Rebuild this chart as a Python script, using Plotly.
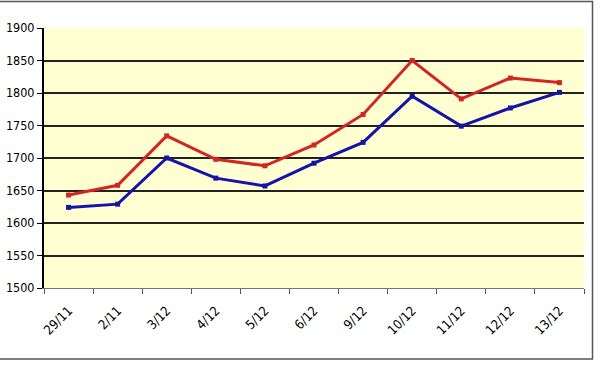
import plotly.graph_objects as go

dates = ["29/11", "2/11", "3/12", "4/12", "5/12", "6/12", "9/12", "10/12", "11/12", "12/12", "13/12"]
red_values = [1643, 1658, 1734, 1698, 1688, 1720, 1767, 1850, 1791, 1823, 1816]
blue_values = [1624, 1629, 1700, 1669, 1657, 1692, 1724, 1795, 1749, 1777, 1801]
y_ticks = [1500, 1550, 1600, 1650, 1700, 1750, 1800, 1850, 1900]

FONT = "Liberation Sans Narrow, Arial Narrow, DejaVu Sans Condensed, sans-serif"

fig = go.Figure()
fig.add_trace(go.Scatter(
    x=dates, y=red_values, mode="lines+markers",
    line=dict(color="#D42424", width=3),
    marker=dict(symbol="square", size=5, color="#D42424"),
    showlegend=False,
))
fig.add_trace(go.Scatter(
    x=dates, y=blue_values, mode="lines+markers",
    line=dict(color="#1414A8", width=3),
    marker=dict(symbol="square", size=5, color="#1414A8"),
    showlegend=False,
))

L, R, T, B = 44, 16, 28, 78
W, H = 600, 366
pw, ph = W - L - R, H - T - B

def px_x(px):
    return (px - L) / pw

def px_y(py):
    return (H - B - py) / ph

fig.update_layout(
    width=W, height=H,
    margin=dict(l=L, r=R, t=T, b=B, pad=0, autoexpand=False),
    paper_bgcolor="white",
    plot_bgcolor="#FFFFD2",
    font=dict(family=FONT, size=12, color="black"),
    xaxis=dict(
        type="category",
        automargin=False,
        range=[-0.5, len(dates) - 0.5],
        tickangle=-45,
        tickson="boundaries",
        ticks="outside", ticklen=5, tickcolor="#555555", tickwidth=1,
        ticklabelstandoff=9,
        showline=True, linecolor="#777777", linewidth=1,
        showgrid=False, zeroline=False,
        tickfont=dict(family=FONT, size=13, color="black"),
    ),
    yaxis=dict(
        automargin=False,
        range=[1500, 1900],
        tickvals=y_ticks,
        ticks="outside", ticklen=5, tickcolor="black", tickwidth=1,
        showline=True, linecolor="black", linewidth=2,
        showgrid=True, gridcolor="#222222", gridwidth=1.5,
        zeroline=False,
        tickfont=dict(family=FONT, size=12.5, color="black"),
    ),
    shapes=[
        dict(type="rect", xref="paper", yref="paper",
             x0=px_x(-2), x1=px_x(592.5), y0=px_y(359), y1=px_y(1.5),
             line=dict(color="#555555", width=1.5), fillcolor="rgba(0,0,0,0)",
             layer="below"),
    ],
)

fig.write_html(
    "out.html",
    config={"displayModeBar": False},
    post_script="document.body.style.margin='0';document.body.style.overflow='hidden';",
)
